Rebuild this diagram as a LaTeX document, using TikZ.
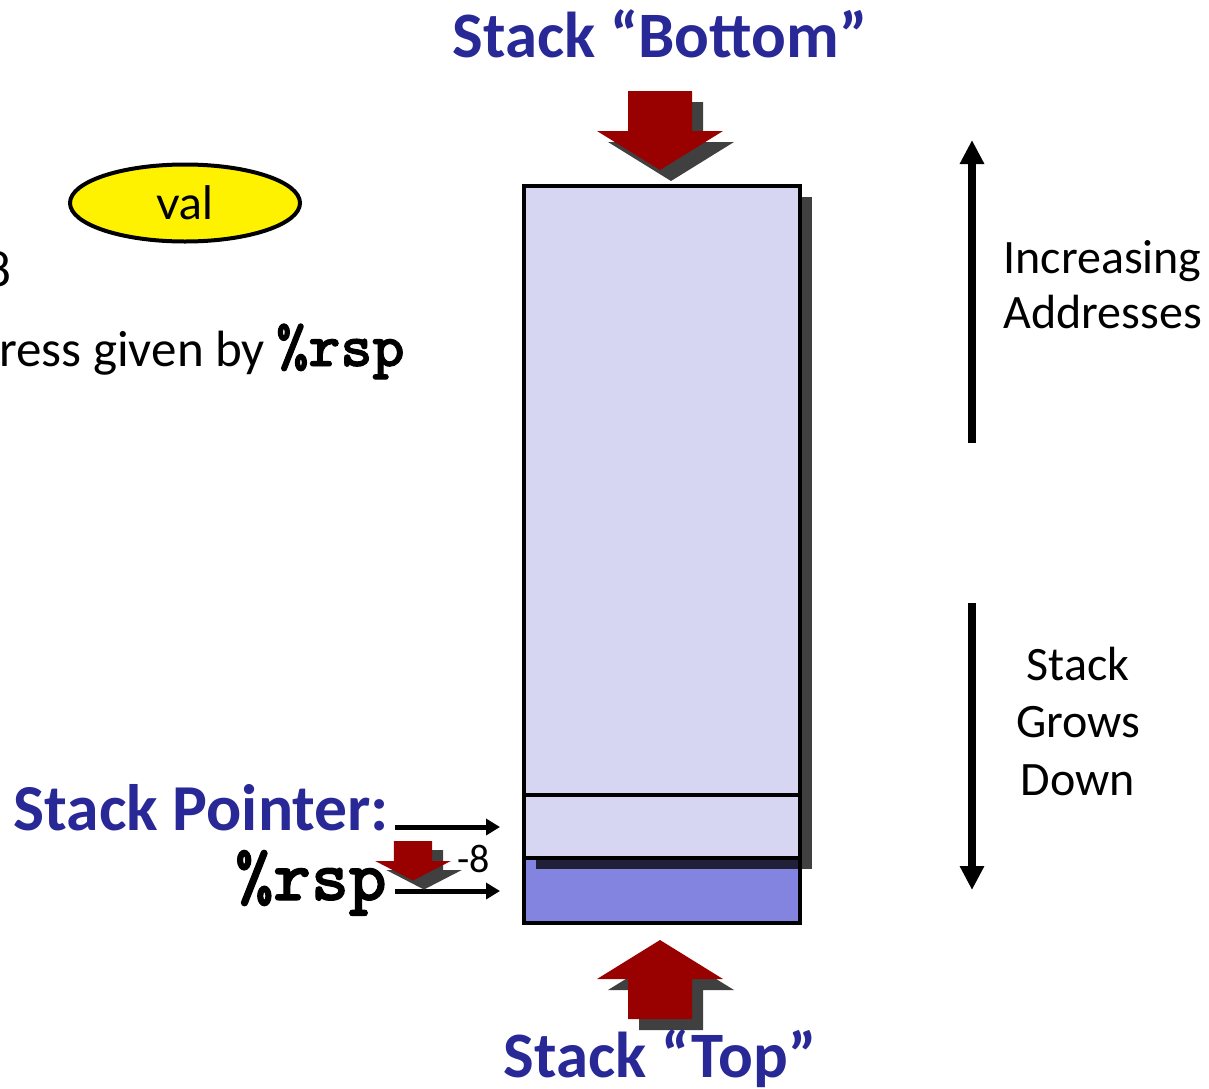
\documentclass[tikz,border=0pt]{standalone}
\usepackage{fontspec}
\setmainfont{Carlito}
\newfontfamily\valfont{Lato}
\newfontfamily\codefont[Extension=.otf,FakeBold=1.5]{lmmonolt10-bold}
\usetikzlibrary{arrows.meta,shapes.geometric}
\definecolor{slideblue}{RGB}{40,40,150}
\definecolor{arrowred}{RGB}{153,0,0}
\definecolor{cellfill}{RGB}{214,214,242}
\definecolor{topfill}{RGB}{131,131,224}
\definecolor{shade}{RGB}{64,64,64}

\begin{document}
\begin{tikzpicture}[x=.5pt,y=-.5pt,
  title/.style={text=slideblue,font=\bfseries\fontsize{32.4}{38}\selectfont,inner sep=0},
  cell/.style={draw,line width=2pt,fill=cellfill},
  ptr/.style={-{Triangle[length=7pt,width=8pt]},line width=2.5pt},
  dir/.style={-{Triangle[length=12pt,width=11.5pt]},line width=4pt},
  fatarrow/.pic={\path[pic actions] (-32,0) -- (32,0) -- (32,40) -- (63,40)
    -- (0,79) -- (-63,40) -- (-32,40) -- cycle;}]
\useasboundingbox (0,0) rectangle (1209,1088);
\clip (0,0) rectangle (1209,1088);

\draw[line width=2pt,fill=topfill] (524,858) rectangle (800,923);
\fill[black,opacity=.75] (536,197) rectangle (812,869);
\draw[cell] (524,186) rectangle (800,795);
\draw[cell] (524,795) rectangle (800,858);

\pic[fill=shade] at (671,102) {fatarrow};
\pic[fill=arrowred] at (660,91) {fatarrow};
\pic[fill=shade,yscale=-1] at (671,1030) {fatarrow};
\pic[fill=arrowred,yscale=-1] at (660,1019) {fatarrow};

\node (bot) [title,anchor=base] at (660,57) {Stack “Bottom”};
\node (tp) [title,anchor=base] at (660,1077) {Stack “Top”};
\node (sp) [title,anchor=base west,font=\bfseries\fontsize{32.8}{38}\selectfont]
  at (13,830) {Stack Pointer:};
\node (rsp) [anchor=base east,inner sep=0,
  font=\codefont\fontsize{36}{40}\selectfont] at (387,900) {\%rsp};

\coordinate (spout) at (395,827);
\coordinate (spin) at (500,827);
\coordinate (rspout) at (395,891);
\coordinate (rspin) at (500,891);
\draw[ptr] (spout) -- (spin);
\draw[ptr] (rspout) -- (rspin);
\pic[fill=shade,xscale=.6,yscale=.5] at (424,850) {fatarrow};
\pic[fill=arrowred,xscale=.6,yscale=.5] at (413,841) {fatarrow};
\node (dec) [anchor=base west,inner sep=0,font=\fontsize{20}{24}\selectfont]
  at (457,872) {-8};

\node (val) [ellipse,draw,line width=2pt,fill=yellow,minimum width=115pt,
  minimum height=38.5pt,inner sep=0,font=\valfont\fontsize{23}{27}\selectfont]
  at (185,203) {val};
\node (by) [anchor=base west,inner sep=0,font=\fontsize{25.5}{30}\selectfont]
  at (-15,286) {8};
\node (note) [anchor=base west,inner sep=0,font=\fontsize{25.5}{30}\selectfont]
  at (-1,366) {ress given by {\codefont\fontsize{30.5}{32}\selectfont\%rsp}};

\coordinate (incB) at (972,443);
\coordinate (incT) at (972,140);
\coordinate (grB) at (972,890);
\coordinate (grT) at (972,603);
\draw[dir] (incB) -- (incT);
\draw[dir] (grT) -- (grB);
\node (inc) [align=left,anchor=base west,inner sep=0,
  font=\fontsize{24}{27.5}\selectfont] at (1003,328) {Increasing\\Addresses};
\node (grow) [align=center,anchor=base,inner sep=0,
  font=\fontsize{24}{28.75}\selectfont] at (1078,795) {Stack\\Grows\\Down};
\end{tikzpicture}
\end{document}
